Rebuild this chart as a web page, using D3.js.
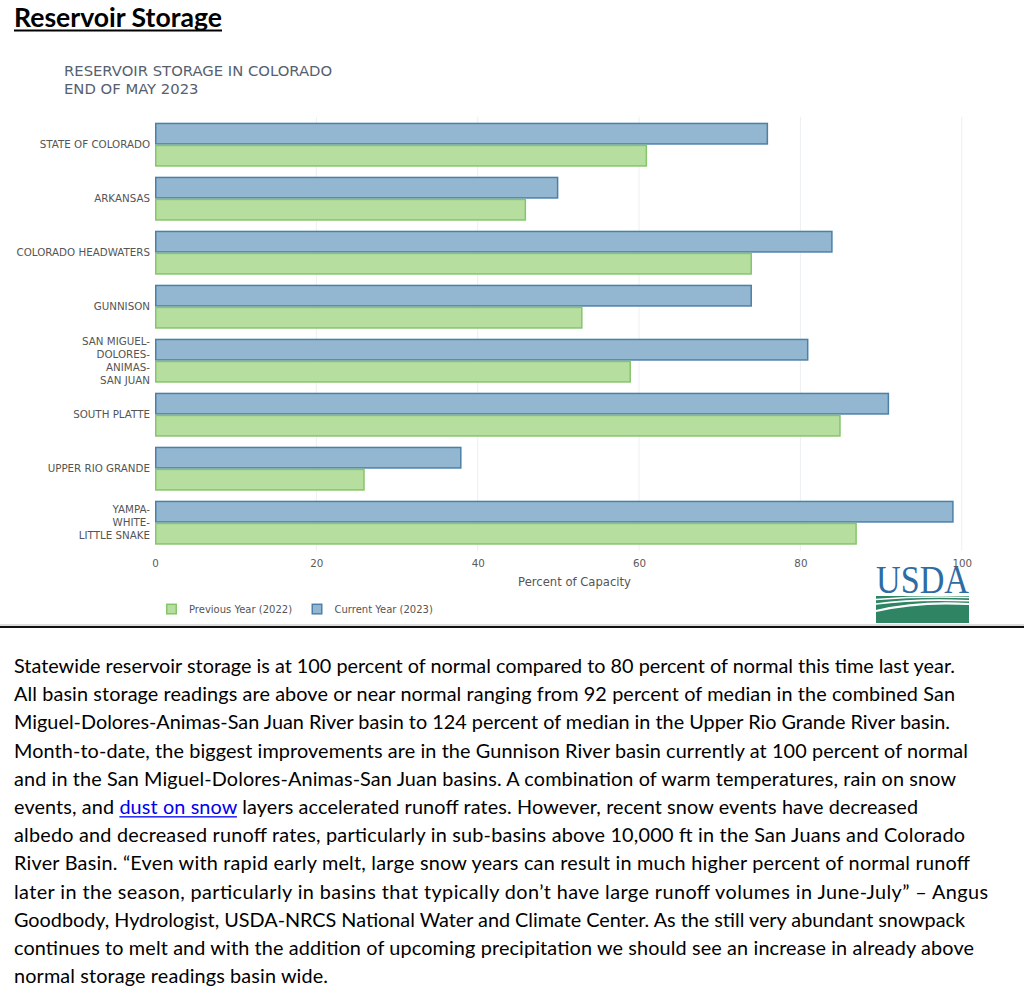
<!DOCTYPE html>
<html>
<head>
<meta charset="utf-8">
<script src="https://cdn.jsdelivr.net/npm/d3@7"></script>
<style>
  html, body { margin: 0; padding: 0; background: #ffffff; }
  svg { display: block; }
</style>
</head>
<body>
<script>
// ---------- DATA ----------
const categories = [
  "STATE OF COLORADO", "ARKANSAS", "COLORADO HEADWATERS", "GUNNISON",
  "SAN MIGUEL-DOLORES-ANIMAS-SAN JUAN", "SOUTH PLATTE", "UPPER RIO GRANDE",
  "YAMPA-WHITE-LITTLE SNAKE"
];
const categoryLabelLines = [
  ["STATE OF COLORADO"], ["ARKANSAS"], ["COLORADO HEADWATERS"], ["GUNNISON"],
  ["SAN MIGUEL-", "DOLORES-", "ANIMAS-", "SAN JUAN"], ["SOUTH PLATTE"],
  ["UPPER RIO GRANDE"], ["YAMPA-", "WHITE-", "LITTLE SNAKE"]
];
const currentYear2023 = [76, 50, 84, 74, 81, 91, 38, 99];
const previousYear2022 = [61, 46, 74, 53, 59, 85, 26, 87];
const seriesNames = ["Current Year (2023)", "Previous Year (2022)"];
const legendOrder = ["Previous Year (2022)", "Current Year (2023)"];
const xTickValues = [0, 20, 40, 60, 80, 100];
const xDomain = [0, 104];

const pageTitle = "Reservoir Storage";
const chartTitleLines = ["RESERVOIR STORAGE IN COLORADO", "END OF MAY 2023"];
const xAxisTitle = "Percent of Capacity";

const paragraphLines = [
  "Statewide reservoir storage is at 100 percent of normal compared to 80 percent of normal this time last year.",
  "All basin storage readings are above or near normal ranging from 92 percent of median in the combined San",
  "Miguel-Dolores-Animas-San Juan River basin to 124 percent of median in the Upper Rio Grande River basin.",
  "Month-to-date, the biggest improvements are in the Gunnison River basin currently at 100 percent of normal",
  "and in the San Miguel-Dolores-Animas-San Juan basins. A combination of warm temperatures, rain on snow",
  ["events, and ", "dust on snow", " layers accelerated runoff rates. However, recent snow events have decreased"],
  "albedo and decreased runoff rates, particularly in sub-basins above 10,000 ft in the San Juans and Colorado",
  "River Basin. \u201CEven with rapid early melt, large snow years can result in much higher percent of normal runoff",
  "later in the season, particularly in basins that typically don\u2019t have large runoff volumes in June-July\u201D \u2013 Angus",
  "Goodbody, Hydrologist, USDA-NRCS National Water and Climate Center. As the still very abundant snowpack",
  "continues to melt and with the addition of upcoming precipitation we should see an increase in already above",
  "normal storage readings basin wide."
];

// ---------- STYLE / LAYOUT ----------
const colors = {
  "Current Year (2023)": { fill: "#93b7d1", stroke: "#4c80aa" },
  "Previous Year (2022)": { fill: "#b6de9f", stroke: "#86c56c" }
};
const W = 1024, H = 997;
const plot = { left: 155, right: 994, top: 117.7, bottom: 549.7 };
// right edge of each paragraph line (layout, as in the reference)
const paraLineEnds = [955, 955, 950, 968, 956, 918, 965, 970, 988, 965, 974, 328];

const svg = d3.select("body").append("svg").attr("width", W).attr("height", H);

// ---------- PAGE TITLE ----------
const titleFont = "Lato, 'Open Sans', sans-serif";
const tTitle = svg.append("text")
  .attr("x", 14).attr("y", 27)
  .attr("font-family", titleFont).attr("font-weight", "bold")
  .attr("font-size", 26).attr("fill", "#000")
  .text(pageTitle);
{
  const w = tTitle.node().getComputedTextLength();
  tTitle.attr("font-size", 26 * 208 / w);
}
svg.append("rect").attr("x", 14).attr("y", 29.5).attr("width", 208).attr("height", 2).attr("fill", "#000");

// ---------- CHART TITLE ----------
svg.selectAll("text.ctitle").data(chartTitleLines).enter().append("text")
  .attr("class", "ctitle")
  .attr("x", 64).attr("y", (d, i) => 76 + i * 18)
  .attr("font-family", "'DejaVu Sans', Verdana, sans-serif")
  .attr("font-size", 14.8).attr("fill", "#56606e")
  .text(d => d);

// ---------- SCALES ----------
const x = d3.scaleLinear().domain(xDomain).range([plot.left, plot.right]);
const y = d3.scaleBand().domain(categories).range([plot.top, plot.bottom])
  .paddingInner(0.185).paddingOuter(0.0925);
const ySub = d3.scaleBand().domain(seriesNames).range([0, y.bandwidth()]);

// gridlines
svg.append("g").selectAll("line").data(xTickValues.filter(v => v > 0)).enter().append("line")
  .attr("x1", d => x(d)).attr("x2", d => x(d))
  .attr("y1", plot.top - 1).attr("y2", plot.bottom + 1)
  .attr("stroke", "#eceff3").attr("stroke-width", 1);

// x axis (labels only)
const xAxis = d3.axisBottom(x).tickValues(xTickValues).tickSize(0).tickPadding(0).tickFormat(d3.format("d"));
const gx = svg.append("g").attr("transform", `translate(0, ${plot.bottom})`).call(xAxis);
gx.select(".domain").remove();
gx.selectAll("text")
  .attr("dy", null).attr("y", 17)
  .attr("font-family", "'DejaVu Sans', Verdana, sans-serif")
  .attr("font-size", 10.3).attr("fill", "#5a5a5a");

svg.append("text")
  .attr("x", (plot.left + plot.right) / 2).attr("y", 586)
  .attr("text-anchor", "middle")
  .attr("font-family", "'DejaVu Sans', Verdana, sans-serif")
  .attr("font-size", 11.6).attr("fill", "#555")
  .text(xAxisTitle);

// bars
const rows = categories.map((c, i) => ({
  cat: c,
  values: [
    { s: seriesNames[0], v: currentYear2023[i] },
    { s: seriesNames[1], v: previousYear2022[i] }
  ]
}));
const groups = svg.append("g").selectAll("g").data(rows).enter().append("g")
  .attr("transform", d => `translate(0, ${y(d.cat)})`);
groups.selectAll("rect").data(d => d.values).enter().append("rect")
  .attr("x", x(0) + 0.75)
  .attr("y", d => ySub(d.s) + 0.75)
  .attr("width", d => x(d.v) - x(0) - 1.5)
  .attr("height", ySub.bandwidth() - 1.5)
  .attr("fill", d => colors[d.s].fill)
  .attr("stroke", d => colors[d.s].stroke)
  .attr("stroke-width", 1.5);

// category labels
const lineH = 13;
const labelG = svg.append("g").selectAll("text").data(categories).enter().append("text")
  .attr("text-anchor", "end")
  .attr("font-family", "'DejaVu Sans', Verdana, sans-serif")
  .attr("font-size", 10.3).attr("fill", "#555");
labelG.each(function (c, i) {
  const lines = categoryLabelLines[i];
  const cy = y(c) + y.bandwidth() / 2;
  const first = cy - (lines.length - 1) * lineH / 2 + 3.7;
  d3.select(this).selectAll("tspan").data(lines).enter().append("tspan")
    .attr("x", 150).attr("y", (d, j) => first + j * lineH).text(d => d);
});

// legend
const legendItems = [
  { name: legendOrder[0], x: 166 },
  { name: legendOrder[1], x: 311.5 }
];
const lg = svg.append("g").selectAll("g").data(legendItems).enter().append("g");
lg.append("rect")
  .attr("x", d => d.x + 0.75).attr("y", 604.3)
  .attr("width", 9.5).attr("height", 9.5)
  .attr("fill", d => colors[d.name].fill)
  .attr("stroke", d => colors[d.name].stroke).attr("stroke-width", 1.5);
lg.append("text")
  .attr("x", d => d.x + 23).attr("y", 612.6)
  .attr("font-family", "'DejaVu Sans', Verdana, sans-serif")
  .attr("font-size", 10).attr("fill", "#555")
  .text(d => d.name);

// ---------- USDA LOGO ----------
const logo = svg.append("g");
logo.append("text")
  .attr("x", 876).attr("y", 593)
  .attr("font-family", "'Liberation Serif', 'DejaVu Serif', serif")
  .attr("font-size", 40).attr("fill", "#2e6ca4")
  .attr("textLength", 93).attr("lengthAdjust", "spacingAndGlyphs")
  .text("USDA");
logo.append("rect").attr("x", 876).attr("y", 596).attr("width", 93).attr("height", 27).attr("fill", "#2f8464");
logo.append("path")
  .attr("d", "M876,599.5 Q920,596 969,597.5")
  .attr("stroke", "#ffffff").attr("stroke-width", 1.6).attr("fill", "none");
logo.append("path")
  .attr("d", "M876,604 Q915,598.5 969,600.8")
  .attr("stroke", "#ffffff").attr("stroke-width", 1.6).attr("fill", "none");
logo.append("path")
  .attr("d", "M876,611 Q918,601 969,604")
  .attr("stroke", "#ffffff").attr("stroke-width", 2.2).attr("fill", "none");

// ---------- HORIZONTAL RULE ----------
svg.append("rect").attr("x", 0).attr("y", 624.5).attr("width", W).attr("height", 1).attr("fill", "#bbbbbb");
svg.append("rect").attr("x", 0).attr("y", 626).attr("width", W).attr("height", 2).attr("fill", "#111");

// ---------- PARAGRAPH ----------
const paraFont = "Lato, 'Open Sans', sans-serif";
const baseSize = 20;
const pt = svg.append("g").attr("font-family", paraFont).attr("fill", "#000");
const probe = pt.append("text").attr("font-size", baseSize).text(paragraphLines[0]);
const probeW = probe.node().getComputedTextLength();
probe.remove();
const paraSize = baseSize * 941 / probeW;
pt.attr("font-size", paraSize);

paragraphLines.forEach((line, i) => {
  const yy = 673 + i * 28.2;
  const t = pt.append("text").attr("x", 14).attr("y", yy);
  if (Array.isArray(line)) {
    line.forEach((seg, j) => {
      const ts = t.append("tspan").text(seg);
      if (j === 1) ts.attr("fill", "#0000ee");
    });
  } else {
    t.text(line);
  }
  t.attr("textLength", paraLineEnds[i] - 14).attr("lengthAdjust", "spacing");
  if (Array.isArray(line)) {
    const n = t.node();
    const s0 = n.getStartPositionOfChar(line[0].length).x;
    const e0 = n.getEndPositionOfChar(line[0].length + line[1].length - 1).x;
    pt.append("rect")
      .attr("x", s0).attr("y", yy + 2.2)
      .attr("width", e0 - s0).attr("height", 1.3).attr("fill", "#0000ee");
  }
});
</script>
</body>
</html>
